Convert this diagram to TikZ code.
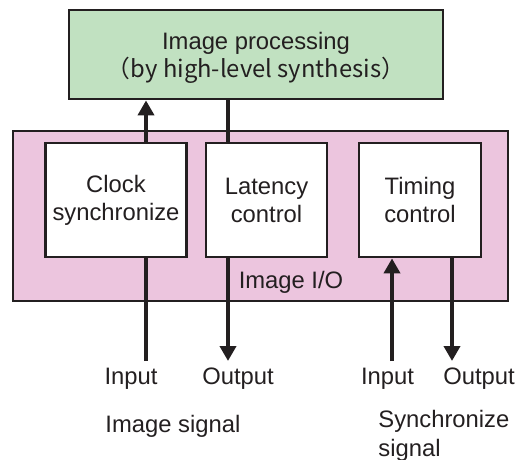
\documentclass[tikz,border=0pt]{standalone}
\usepackage{fontspec}
\setmainfont{Liberation Sans}
\newfontfamily\cjk{Noto Sans CJK JP}
\usetikzlibrary{arrows.meta,calc}
\definecolor{hlsgreen}{RGB}{193,225,193}
\definecolor{iopink}{RGB}{236,197,222}
\definecolor{ink}{RGB}{35,31,32}
\tikzstyle{block} = [rectangle, draw=ink, line width=1.4pt, text=ink, align=center,
    font=\fontsize{11.9}{14}\selectfont]
\tikzstyle{sig} = [draw=ink, line width=2.1pt]
\tikzstyle{lbl} = [text=ink, align=left, inner sep=0pt, font=\fontsize{11.9}{14.5}\selectfont]

\begin{document}
\begin{tikzpicture}[x=0.5pt,y=-0.5pt,>={Triangle[width=8pt,length=7.5pt]}]
  \useasboundingbox (0,0) rectangle (523,459);

  \node[block,fill=hlsgreen,minimum width=187pt,minimum height=44.5pt] (proc) at (256,54.5) {};
  \node[text=ink,align=center,font=\fontsize{11.9}{14}\selectfont] (proctxt) at (256,58)
       {Image processing\\\cjk{（}by high-level synthesis\cjk{）}};
  \node[block,fill=iopink,minimum width=247.5pt,minimum height=85pt] (io) at (260.5,216) {};
  \node[block,fill=white,minimum width=69pt,minimum height=57pt]   (clk) at (116,200) {Clock\\synchronize};
  \node[block,fill=white,minimum width=60.5pt,minimum height=57pt] (lat) at (266.5,200) {Latency\\control};
  \node[block,fill=white,minimum width=61pt,minimum height=57pt]   (tim) at (420,200) {Timing\\control};
  \node[lbl] (iolbl) at (291,282) {Image I/O};

  % free ends of the signal lines
  \coordinate (imgin)  at (146,361);
  \coordinate (imgout) at (228,361);
  \coordinate (syncin) at (392,361);
  \coordinate (syncout) at (452,361);

  \draw[sig,->] (clk.north -| imgin) -- (proc.south -| imgin);
  \draw[sig]    (lat.north -| imgout) -- (proc.south -| imgout);
  \draw[sig]    (imgin) -- (clk.south -| imgin);
  \draw[sig,->] (lat.south -| imgout) -- (imgout);
  \draw[sig,->] (syncin) -- (tim.south -| syncin);
  \draw[sig,->] (tim.south -| syncout) -- (syncout);

  \node[lbl] (inA)  at (131,379) {Input};
  \node[lbl] (outA) at (238,379) {Output};
  \node[lbl] (inB)  at (387.5,379) {Input};
  \node[lbl] (outB) at (479,379) {Output};
  \node[lbl,anchor=west] (imgsig) at (105,426) {Image signal};
  \node[lbl,anchor=north west] (syncsig) at (378,410) {Synchronize\\signal};
\end{tikzpicture}
\end{document}
